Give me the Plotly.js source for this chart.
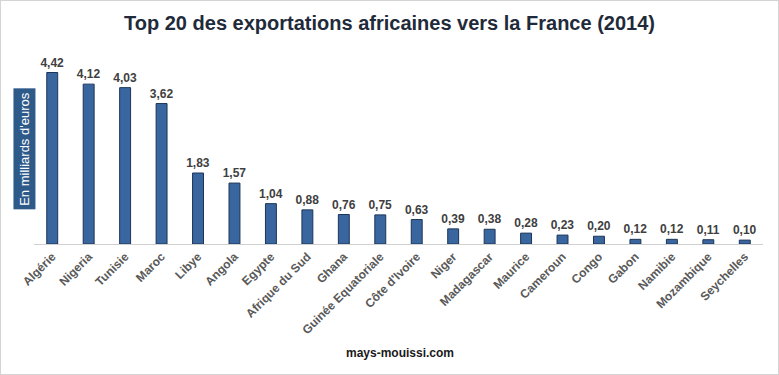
<!DOCTYPE html>
<html><head><meta charset="utf-8">
<script src="https://cdn.plot.ly/plotly-3.0.1.min.js"></script>
<style>body{margin:0;background:#fff}#wrap{position:relative;width:779px;height:375px}#b{position:absolute;left:0;top:0;width:779px;height:375px;box-sizing:border-box;border:1px solid #d4d4d4;pointer-events:none}</style>
</head><body><div id="wrap"><div id="chart" style="width:779px;height:375px"></div><div id="b"></div></div>
<script>
const countries = ["Algérie","Nigeria","Tunisie","Maroc","Libye","Angola","Egypte","Afrique du Sud","Ghana","Guinée Equatoriale","Côte d'Ivoire","Niger","Madagascar","Maurice","Cameroun","Congo","Gabon","Namibie","Mozambique","Seychelles"];
const values = [4.42,4.12,4.03,3.62,1.83,1.57,1.04,0.88,0.76,0.75,0.63,0.39,0.38,0.28,0.23,0.20,0.12,0.12,0.11,0.10];
const titleText = "Top 20 des exportations africaines vers la France (2014)";
const yLabel = "En milliards d'euros";
const source = "mays-mouissi.com";

const trace = {
  type: 'bar', x: countries, y: values,
  width: 0.3,
  marker: {color: '#3A66A0', line: {color: '#1C3557', width: 1}},
  texttemplate: '%{y:.2f}', textposition: 'outside', cliponaxis: false, constraintext: 'none',
  textfont: {family: 'Liberation Sans, Arial', size: 12, color: '#404040', weight: 'bold'},
  hoverinfo: 'none'
};
const layout = {
  width: 779, height: 375,
  margin: {l: 34, r: 16, t: 50, b: 131},
  separators: ', ',
  paper_bgcolor: '#fff', plot_bgcolor: '#fff',
  showlegend: false,
  title: {text: '<b>' + titleText + '</b>', x: 0.5, xanchor: 'center', y: 0.94, yanchor: 'middle', yref: 'container',
    font: {family: 'Liberation Sans, Arial', size: 20, color: '#1F2A3A'}},
  xaxis: {type: 'category', range: [-0.5, 19.5], showline: true, linecolor: '#d0d0d0', linewidth: 1,
    ticks: '', tickangle: -45, showgrid: false, zeroline: false,
    tickfont: {family: 'Liberation Sans, Arial', size: 12, color: '#595959', weight: 'bold'}},
  yaxis: {range: [0, 5], showgrid: false, zeroline: false, showticklabels: false, ticks: '', showline: false},
  annotations: [
    {text: yLabel, xref: 'paper', yref: 'paper', x: -0.0125, y: 0.49, xanchor: 'center', yanchor: 'middle',
     textangle: -90, showarrow: false, bgcolor: '#2E5A8A', borderpad: 3,
     font: {family: 'Liberation Sans, Arial', size: 13, color: '#ffffff'}},
    {text: '<b>' + source + '</b>', xref: 'paper', yref: 'paper', x: 0.502, y: (244 - 353) / 194, xanchor: 'center', yanchor: 'middle',
     showarrow: false, font: {family: 'Liberation Sans, Arial', size: 12, color: '#1a1a1a'}}
  ]
};
Plotly.newPlot('chart', [trace], layout, {displayModeBar: false, staticPlot: true});
</script></body></html>
